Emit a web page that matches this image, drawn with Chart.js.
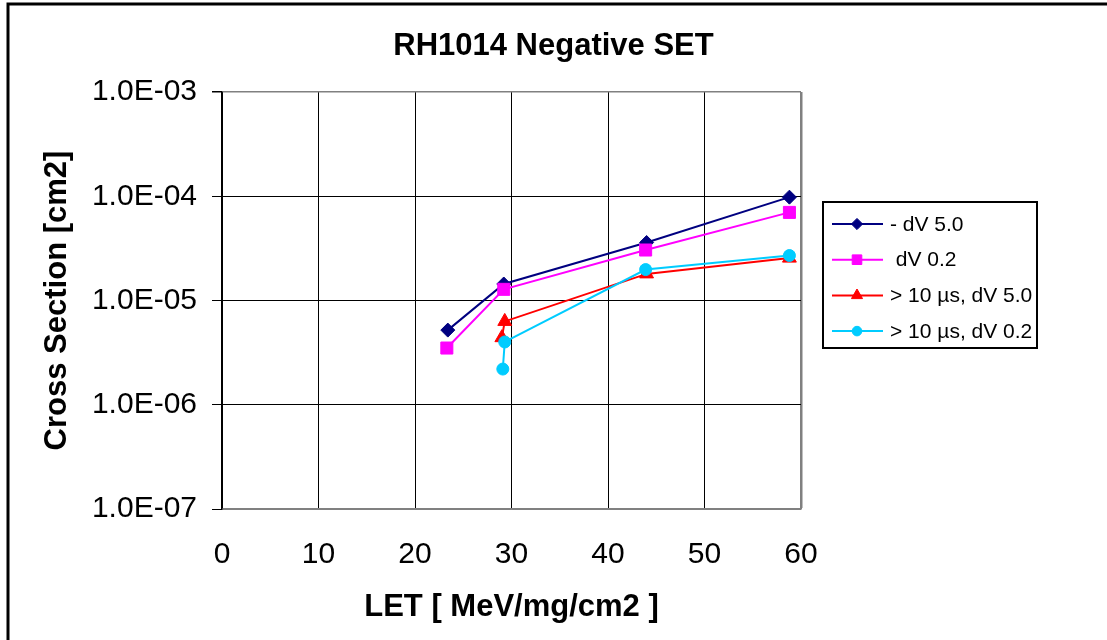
<!DOCTYPE html>
<html>
<head>
<meta charset="utf-8">
<script src="https://cdn.jsdelivr.net/npm/chart.js@4.4.0/dist/chart.umd.min.js"></script>
<style>
  body { margin: 0; background: #fff; }
  canvas { display: block; }
</style>
</head>
<body>
<canvas id="myChart" width="1107" height="640"></canvas>
<script>
// values
const chartTitle = 'RH1014 Negative SET';
const seriesNames = ['- dV 5.0', ' dV 0.2', '> 10 \u00b5s, dV 5.0', '> 10 \u00b5s, dV 0.2'];
const seriesColors = ['#000080', '#FF00FF', '#FF0000', '#00CCFF'];

const letNeg50 = [23.4, 29.2, 44.0, 58.8];
const xsNeg50 = [5.2e-6, 1.44e-5, 3.6e-5, 9.8e-5];

const letNeg02 = [23.3, 29.2, 43.9, 58.8];
const xsNeg02 = [3.5e-6, 1.28e-5, 3.05e-5, 7.0e-5];

const letLong50 = [29.0, 29.3, 44.0, 58.8];
const xsLong50 = [4.4e-6, 6.3e-6, 1.8e-5, 2.55e-5];

const letLong02 = [29.1, 29.3, 43.9, 58.8];
const xsLong02 = [2.2e-6, 4.0e-6, 1.98e-5, 2.7e-5];

const xTickValues = [0, 10, 20, 30, 40, 50, 60];
const yTickValues = [1e-7, 1e-6, 1e-5, 1e-4, 1e-3];
const yTickLabels = ['1.0E-07', '1.0E-06', '1.0E-05', '1.0E-04', '1.0E-03'];

const FONT = "'Liberation Sans', Arial, sans-serif";
const GRAY = '#808080';

function toPoints(xs, ys) {
  return xs.map((x, i) => ({ x: x, y: ys[i] }));
}

const styles = [
  { pointStyle: 'rectRot', pointRadius: 7 },
  { pointStyle: 'rect', pointRadius: 8.5 },
  { pointStyle: 'triangle', pointRadius: 8 },
  { pointStyle: 'circle', pointRadius: 6 }
];
const allX = [letNeg50, letNeg02, letLong50, letLong02];
const allY = [xsNeg50, xsNeg02, xsLong50, xsLong02];

const datasets = seriesNames.map((name, i) => ({
  label: name,
  data: toPoints(allX[i], allY[i]),
  showLine: true,
  borderColor: seriesColors[i],
  backgroundColor: seriesColors[i],
  borderWidth: 2,
  pointStyle: styles[i].pointStyle,
  pointRadius: styles[i].pointRadius,
  pointBorderWidth: 1,
  pointBorderColor: seriesColors[i],
  pointBackgroundColor: seriesColors[i],
  order: seriesNames.length - i
}));

// frame, title and the boxed legend on the right
const decorPlugin = {
  id: 'decor',
  beforeDraw(chart) {
    const ctx = chart.ctx;
    ctx.save();
    ctx.fillStyle = '#fff';
    ctx.fillRect(0, 0, chart.width, chart.height);
    ctx.strokeStyle = '#000';
    ctx.lineWidth = 3;
    ctx.beginPath();
    ctx.moveTo(8, chart.height);
    ctx.lineTo(8, 4);
    ctx.lineTo(chart.width, 4);
    ctx.stroke();
    ctx.restore();
  },
  afterDraw(chart) {
    const ctx = chart.ctx;
    const area = chart.chartArea;
    ctx.save();
    // title
    ctx.fillStyle = '#000';
    ctx.font = 'bold 31px ' + FONT;
    ctx.textAlign = 'center';
    ctx.textBaseline = 'middle';
    ctx.fillText(chartTitle, chart.width / 2, 46);

    // legend
    const bx = area.right + 22, by = 202, bw = 214, bh = 146;
    ctx.strokeStyle = '#000';
    ctx.lineWidth = 2;
    ctx.strokeRect(bx, by, bw, bh);
    ctx.font = '21px ' + FONT;
    ctx.textAlign = 'left';
    chart.data.datasets.forEach((ds, i) => {
      const y = by + 22 + i * 35.7;
      ctx.strokeStyle = ds.borderColor;
      ctx.lineWidth = 2;
      ctx.beginPath();
      ctx.moveTo(bx + 9, y);
      ctx.lineTo(bx + 60, y);
      ctx.stroke();
      ctx.fillStyle = ds.pointBackgroundColor;
      ctx.strokeStyle = ds.pointBorderColor;
      ctx.lineWidth = 1;
      Chart.helpers.drawPoint(ctx, {
        pointStyle: ds.pointStyle,
        radius: ds.pointRadius * 0.8,
        rotation: 0,
        borderWidth: 1
      }, bx + 34, y);
      ctx.fillStyle = '#000';
      ctx.fillText(ds.label, bx + 67, y + 1);
    });
    ctx.restore();
  }
};

new Chart(document.getElementById('myChart'), {
  type: 'scatter',
  data: { datasets: datasets },
  options: {
    responsive: false,
    animation: false,
    layout: { padding: { left: 0, right: 306, top: 92, bottom: 0 } },
    plugins: {
      legend: { display: false },
      title: { display: false },
      tooltip: { enabled: false }
    },
    scales: {
      x: {
        type: 'linear',
        min: 0,
        max: 60,
        afterBuildTicks: (scale) => { scale.ticks = xTickValues.map(v => ({ value: v })); },
        afterFit: (scale) => { scale.height = 131; },
        ticks: {
          color: '#000',
          padding: 28,
          font: { family: FONT, size: 30 }
        },
        grid: {
          drawTicks: false,
          color: (c) => c.tick && c.tick.value === 60 ? GRAY : '#000',
          lineWidth: (c) => c.tick && c.tick.value === 60 ? 2.5 : 1
        },
        border: { color: GRAY, width: 1.5 },
        title: {
          display: true,
          text: 'LET [ MeV/mg/cm2 ]',
          color: '#000',
          font: { family: FONT, size: 31, weight: 'bold' },
          padding: { top: 0, bottom: 14 }
        }
      },
      y: {
        type: 'logarithmic',
        min: 1e-7,
        max: 1e-3,
        afterBuildTicks: (scale) => { scale.ticks = yTickValues.map(v => ({ value: v })); },
        afterFit: (scale) => { scale.width = 222; },
        ticks: {
          color: '#000',
          padding: 15,
          font: { family: FONT, size: 30 },
          callback: (value, index) => yTickLabels[index]
        },
        grid: {
          tickLength: 10,
          tickColor: '#000',
          color: (c) => c.tick && (c.tick.value === 1e-3 || c.tick.value === 1e-7) ? GRAY : '#000',
          lineWidth: (c) => c.tick && c.tick.value === 1e-3 ? 1.5 : 1
        },
        border: { color: '#000', width: 1.5 },
        title: {
          display: true,
          text: 'Cross Section [cm2]',
          color: '#000',
          font: { family: FONT, size: 31, weight: 'bold' },
          padding: { top: 39, bottom: 0 }
        }
      }
    }
  },
  plugins: [decorPlugin]
});
</script>
</body>
</html>
